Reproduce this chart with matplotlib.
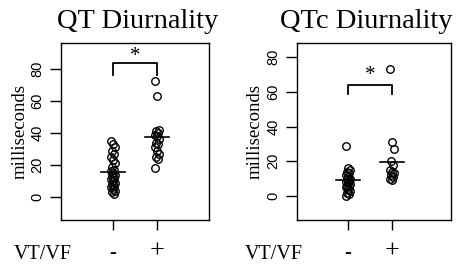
import matplotlib
matplotlib.use("Agg")
import matplotlib.pyplot as plt
import matplotlib.transforms as mtransforms

# ---- data (milliseconds) ----
titles = ["QT Diurnality", "QTc Diurnality"]
group_labels = ["-", "+"]
qt_neg = [35, 33, 31, 29, 27, 25, 23, 21, 19, 17, 16, 15, 14, 13, 12, 11, 10, 9, 8, 7, 6, 5, 4, 3, 2]
qt_pos = [72.5, 63, 42, 41, 40, 39, 38, 36, 34, 33, 31, 29, 27, 25, 24, 18]
qtc_neg = [29, 16, 15, 14, 13, 12, 11, 10, 10, 9, 8, 8, 7, 6, 6, 5, 4, 3, 2, 1, 0]
qtc_pos = [73, 31, 27, 20, 18, 15, 14, 13, 12, 11, 10, 9]
qt_means = [15.7, 37.5]
qtc_means = [9.0, 19.6]
yticks = [0, 20, 40, 60, 80]

W, H = 459, 266
fig = plt.figure(figsize=(W / 100, H / 100), dpi=100)

serif = "Liberation Serif"
sans = "Liberation Sans"

panels = [
    dict(rect=(61, 43, 209, 220), ylim=(-14.3, 96.1), xlim=(-0.18, 3.18),
         groups=[qt_neg, qt_pos], means=qt_means, title=titles[0],
         title_x=138, ylab_x=20, vt_x=43, br=(76.3, 83.7), star=87.5),
    dict(rect=(297, 43, 451, 220), ylim=(-13.8, 88.1), xlim=(-0.16, 3.34),
         groups=[qtc_neg, qtc_pos], means=qtc_means, title=titles[1],
         title_x=366, ylab_x=255, vt_x=274, br=(58.7, 63.9), star=69.5),
]

for p in panels:
    x0, y0, x1, y1 = p["rect"]
    ax = fig.add_axes([x0 / W, 1 - y1 / H, (x1 - x0) / W, (y1 - y0) / H])
    ax.set_xlim(*p["xlim"])
    ax.set_ylim(*p["ylim"])
    for s in ax.spines.values():
        s.set_linewidth(1.0)
        s.set_color("black")
    for gi, vals in enumerate(p["groups"]):
        xc = gi + 1
        xs = [xc + (((i * 7) % 5) - 2) * 0.025 for i in range(len(vals))]
        ax.plot(xs, vals, linestyle="none", marker="o", markersize=5.4,
                markerfacecolor="none", markeredgecolor="black",
                markeredgewidth=1.0, clip_on=False)
        ax.plot([xc - 0.27, xc + 0.27], [p["means"][gi]] * 2, color="black", lw=1.2)
    # significance bracket
    lo, hi = p["br"]
    ax.plot([1, 1, 2, 2], [lo, hi, hi, lo], color="black", lw=1.3)
    ax.text(1.5, p["star"], "*", ha="center", va="center", fontsize=15,
            family=serif)
    ax.set_yticks(yticks)
    ax.set_yticklabels([str(v) for v in yticks], rotation=90, va="center",
                       family=sans, fontsize=10.5)
    ax.tick_params(axis="y", direction="out", length=8, width=1.0, pad=4)
    ax.set_xticks([1, 2])
    ax.set_xticklabels(["", ""])
    ax.tick_params(axis="x", direction="out", length=7.5, width=1.0)
    trans = mtransforms.blended_transform_factory(ax.transData, fig.transFigure)
    for gi, lab in enumerate(group_labels):
        ax.text(gi + 1, 1 - 258 / H, lab, transform=trans, ha="center",
                va="baseline", fontsize=15 if lab == "-" else 19, family=serif)
    fig.text(p["title_x"] / W, 1 - 28 / H, p["title"], ha="center",
             va="baseline", fontsize=20.5, family=serif)
    fig.text(p["ylab_x"] / W, 1 - ((y0 + y1) / 2) / H, "milliseconds",
             rotation=90, ha="center", va="center", fontsize=13.5, family=serif)
    fig.text(p["vt_x"] / W, 1 - 259 / H, "VT/VF",
             ha="center", va="baseline", fontsize=14.5, family=serif)

fig.savefig("out.png", dpi=100)
